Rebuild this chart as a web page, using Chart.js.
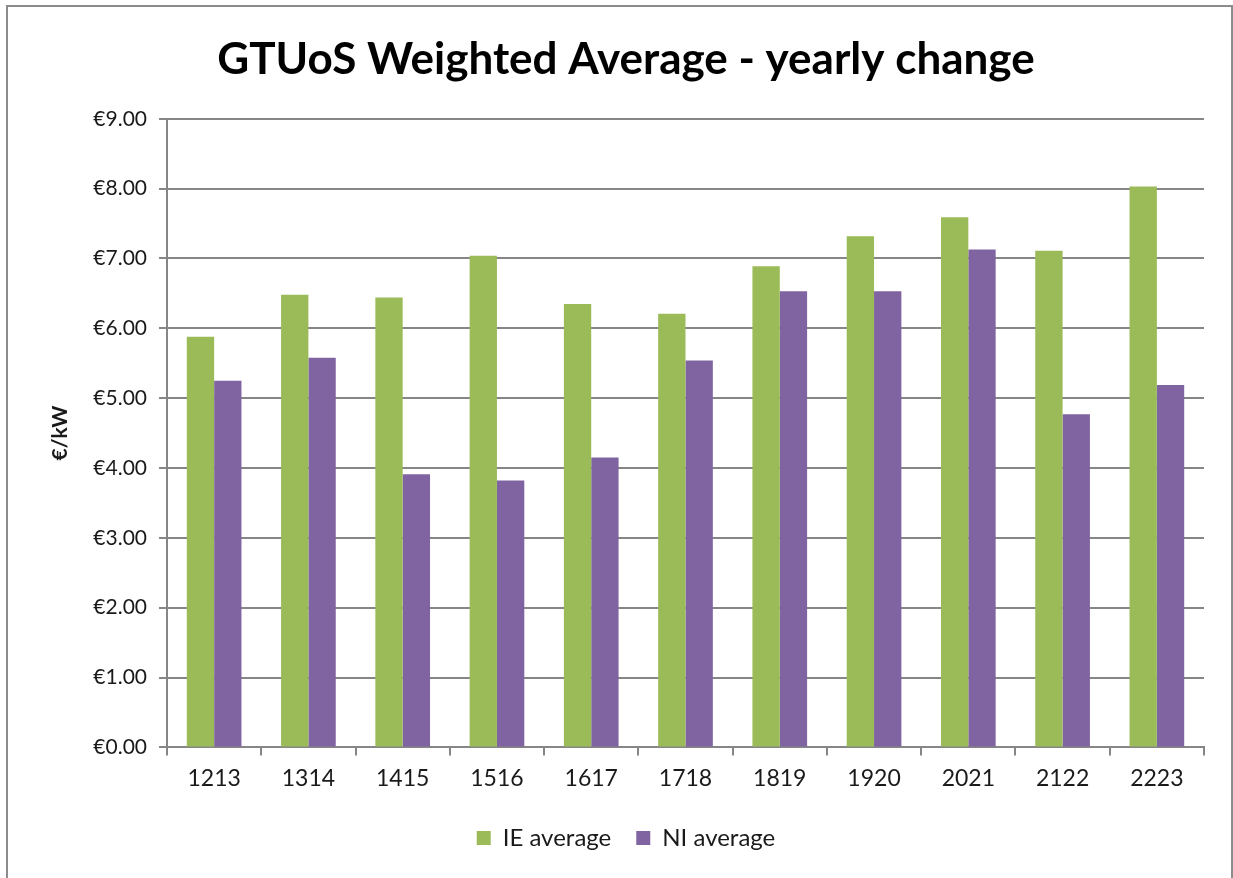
<!DOCTYPE html>
<html>
<head>
    <meta charset="utf-8" />
    <title>GTUoS Weighted Average - yearly change</title>
    <style>
        body {
            margin: 0;
            background: #fff;
        }

        .chart-container {
            position: absolute;
            left: 6px;
            top: 5px;
            width: 1223px;
            height: 880px;
            border: 2px solid #8c8c8c;
            border-bottom: none;
            background: #fff;
        }
    </style>
    <script src="https://cdn.jsdelivr.net/npm/chart.js"></script>
</head>
<body>
    <div class="chart-container">
        <canvas id="chart"></canvas>
    </div>

    <script>
        const years = ['1213', '1314', '1415', '1516', '1617', '1718', '1819', '1920', '2021', '2122', '2223'];
        const ieAverage = [5.88, 6.48, 6.44, 7.04, 6.35, 6.21, 6.89, 7.32, 7.59, 7.11, 8.03];
        const niAverage = [5.25, 5.58, 3.91, 3.82, 4.15, 5.54, 6.53, 6.53, 7.13, 4.77, 5.19];
        const yTicks = [0, 1, 2, 3, 4, 5, 6, 7, 8, 9];

        const axisGrey = '#868686';
        const textColor = '#1a1a1a';

        Chart.defaults.font.family = 'Lato, "Open Sans", sans-serif';

        const canvas = document.getElementById('chart');
        canvas.width = 1223;
        canvas.height = 872;

        new Chart(canvas.getContext('2d'), {
            type: 'bar',
            data: {
                labels: years,
                datasets: [
                    { label: 'IE average', data: ieAverage, backgroundColor: '#9bbb59' },
                    { label: 'NI average', data: niAverage, backgroundColor: '#8064a2' }
                ]
            },
            options: {
                responsive: false,
                animation: false,
                layout: { padding: { left: 40, right: 27, top: 0, bottom: 19 } },
                datasets: { bar: { categoryPercentage: 0.58, barPercentage: 1.0 } },
                scales: {
                    x: {
                        grid: { drawOnChartArea: false, drawTicks: true, tickLength: 8, color: axisGrey, lineWidth: 2 },
                        border: { display: true, color: axisGrey, width: 2 },
                        ticks: { color: textColor, font: { size: 23 }, padding: 9 }
                    },
                    y: {
                        min: 0,
                        max: 9,
                        afterBuildTicks: scale => { scale.ticks = yTicks.map(v => ({ value: v })); },
                        afterFit: scale => { scale.width = 119; },
                        grid: { color: axisGrey, lineWidth: 2, drawTicks: true, tickLength: 8 },
                        border: { display: true, color: axisGrey, width: 2 },
                        ticks: {
                            color: textColor,
                            font: { size: 21 },
                            padding: 12,
                            callback: v => '€' + Number(v).toFixed(2)
                        },
                        title: { display: true, text: '€/kW', color: textColor, font: { size: 21, weight: 'bold' }, padding: 0 }
                    }
                },
                plugins: {
                    title: {
                        display: true,
                        text: 'GTUoS Weighted Average - yearly change',
                        color: '#000',
                        font: { size: 44, weight: 'bold' },
                        padding: { top: 26, bottom: 33 }
                    },
                    legend: {
                        position: 'bottom',
                        labels: {
                            color: textColor,
                            font: { size: 24 },
                            boxWidth: 14,
                            boxHeight: 14,
                            padding: 25
                        }
                    },
                    tooltip: { enabled: false }
                }
            }
        });
    </script>
</body>
</html>
